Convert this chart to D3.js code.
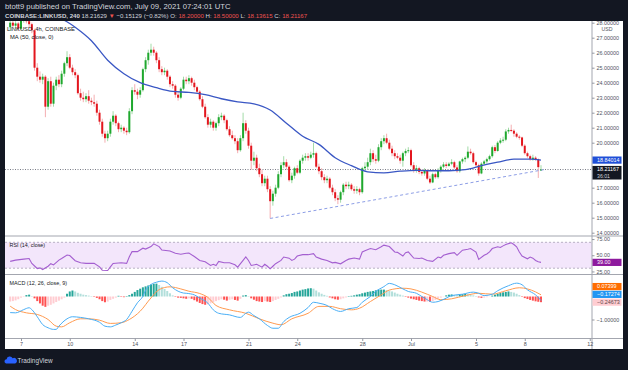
<!DOCTYPE html>
<html>
<head>
<meta charset="utf-8">
<script src="https://cdn.jsdelivr.net/npm/d3@7"></script>
<style>
  body { margin: 0; background: #131722; }
  svg { display: block; font-family: "Liberation Sans", Arial, sans-serif; }
  .axis text { fill: #50535e; font-size: 5.4px; font-family: "Liberation Sans", Arial, sans-serif; }
  .axis line { stroke: #9598a1; }
</style>
</head>
<body>
<svg></svg>
<script>
var width = 628;
var height = 370;

// header
var headLine1 = "btott9 published on TradingView.com, July 09, 2021 07:24:01 UTC";
var symbolText = "COINBASE:LINKUSD, 240";
var lastTrade = "18.21629";
var changeText = "\u22120.15129 (\u22120.82%)";
var ohlcNames = ["O:", "H:", "L:", "C:"];
var ohlcTexts = ["18.20000", "18.50000", "18.13615", "18.21167"];

// 4h candles, first one June 6 08:00 UTC
var firstCandle = Date.UTC(2021, 5, 6, 8);
var opens = [
  27.70, 28.00, 27.80, 27.95, 27.60, 28.20, 28.40, 28.10, 27.90, 27.50,
  25.00, 24.40, 24.20, 24.40, 22.40, 24.10, 22.60, 23.80, 24.20, 23.90,
  24.60, 25.30, 25.70, 25.00, 24.70, 24.50, 23.30, 23.00, 22.90, 23.10,
  22.80, 22.70, 22.60, 22.00, 21.40, 20.60, 20.30, 20.60, 21.40, 21.80,
  21.30, 20.90, 21.00, 20.80, 20.70, 22.10, 23.50, 23.40, 23.20, 23.50,
  24.90, 25.50, 26.00, 26.20, 26.00, 25.50, 24.90, 24.70, 24.80, 24.40,
  23.90, 23.80, 23.20, 23.00, 23.60, 24.20, 24.10, 24.30, 24.00, 23.70,
  23.40, 22.90, 22.40, 21.70, 21.20, 21.40, 21.00, 21.30, 21.70, 21.80,
  21.50, 20.90, 20.50, 20.30, 20.10, 19.50, 20.30, 21.30, 20.80, 19.80,
  18.80, 19.00, 18.30, 17.90, 17.30, 17.60, 16.90, 16.10, 16.60, 17.00,
  17.90, 18.50, 18.70, 18.40, 17.50, 17.80, 18.30, 18.00, 18.80, 19.00,
  19.10, 19.00, 19.20, 19.30, 18.40, 18.10, 17.70, 17.50, 17.60, 17.00,
  16.70, 16.30, 16.20, 16.70, 17.20, 17.10, 17.20, 16.90, 16.80, 16.90,
  16.70, 18.30, 18.40, 18.70, 19.30, 18.90, 18.80, 19.70, 20.10, 20.30,
  20.00, 19.60, 19.30, 19.10, 19.00, 18.80, 19.30, 19.45, 19.50, 18.50,
  18.20, 18.30, 18.05, 17.95, 18.15, 17.60, 17.35, 17.90, 17.70, 18.15,
  18.40, 18.55, 18.45, 18.60, 18.70, 18.35, 18.10, 18.75, 18.90, 19.00,
  19.40, 19.30, 18.70, 18.50, 17.95, 18.60, 18.75, 18.90, 19.10, 19.70,
  19.45, 20.00, 20.15, 20.20, 20.75, 20.85, 20.80, 20.60, 20.40, 20.35,
  19.80, 19.30, 19.10, 18.90, 19.00, 18.90, 18.20
];
var highs = [
  28.30, 28.15, 28.10, 28.05, 28.60, 28.70, 28.55, 28.25, 28.00, 27.60,
  25.30, 24.75, 24.60, 24.50, 24.30, 24.40, 24.00, 24.40, 24.50, 24.80,
  25.40, 26.10, 25.90, 25.20, 24.90, 24.60, 23.60, 23.40, 23.30, 23.50,
  23.00, 23.20, 22.80, 22.20, 21.60, 20.80, 20.80, 21.60, 22.10, 21.90,
  21.40, 21.20, 21.10, 21.00, 22.30, 23.70, 23.90, 23.60, 23.70, 25.00,
  25.70, 26.20, 26.60, 26.40, 26.10, 25.70, 25.10, 25.00, 24.90, 24.50,
  24.10, 23.90, 23.40, 23.70, 24.40, 24.40, 24.50, 24.40, 24.20, 23.80,
  23.50, 23.10, 22.60, 21.90, 21.60, 21.50, 21.40, 21.90, 22.00, 21.90,
  21.60, 21.10, 20.80, 20.50, 20.30, 20.50, 22.00, 21.50, 21.00, 20.00,
  19.40, 19.20, 18.60, 18.20, 17.80, 17.80, 17.10, 16.80, 17.20, 18.10,
  18.70, 19.10, 18.90, 18.50, 18.00, 18.40, 18.50, 18.90, 19.20, 19.30,
  19.30, 19.40, 20.00, 19.40, 18.60, 18.30, 17.90, 17.80, 17.70, 17.20,
  16.90, 16.50, 16.80, 17.30, 17.40, 17.40, 17.30, 17.10, 17.10, 17.00,
  18.40, 18.70, 19.00, 19.60, 19.50, 19.20, 19.90, 20.30, 20.50, 20.60,
  20.20, 19.80, 19.50, 19.30, 19.20, 19.40, 19.60, 19.70, 19.60, 18.70,
  18.50, 18.40, 18.20, 18.30, 18.20, 17.80, 18.00, 18.00, 18.30, 18.50,
  18.70, 18.70, 18.70, 18.90, 18.80, 18.50, 18.80, 19.00, 19.10, 19.75,
  19.60, 19.40, 18.80, 18.60, 18.70, 18.85, 19.00, 19.20, 19.80, 19.85,
  20.10, 20.30, 20.40, 20.90, 21.00, 21.20, 20.90, 20.70, 20.50, 20.40,
  19.90, 19.40, 19.20, 19.20, 19.10, 18.95, 18.50
];
var lows = [
  27.45, 27.70, 27.60, 27.45, 27.50, 28.00, 27.95, 27.70, 27.30, 24.80,
  24.10, 24.00, 23.90, 21.70, 22.20, 22.40, 22.40, 23.50, 23.70, 23.70,
  24.40, 25.10, 24.90, 24.50, 24.30, 23.20, 22.80, 22.70, 22.70, 22.60,
  22.50, 22.40, 21.80, 21.20, 20.40, 20.00, 20.10, 20.40, 21.20, 21.10,
  20.70, 20.70, 20.60, 20.50, 20.60, 21.90, 23.20, 22.90, 23.00, 23.40,
  24.70, 25.20, 25.80, 25.80, 25.30, 24.70, 24.50, 24.50, 24.20, 23.70,
  23.60, 23.00, 22.80, 22.90, 23.50, 23.90, 23.90, 23.80, 23.50, 23.30,
  22.80, 22.30, 21.60, 21.00, 21.00, 20.80, 20.80, 21.10, 21.50, 21.30,
  20.80, 20.40, 20.20, 19.90, 19.30, 19.40, 20.10, 20.60, 19.60, 18.20,
  18.50, 18.10, 17.70, 17.10, 17.10, 16.70, 14.95, 15.80, 16.40, 16.90,
  17.70, 18.30, 18.20, 17.40, 17.30, 17.60, 17.90, 17.90, 18.60, 18.80,
  18.80, 18.90, 19.00, 18.30, 17.90, 17.50, 17.30, 17.30, 16.90, 16.50,
  16.10, 15.90, 16.00, 16.50, 16.90, 16.90, 16.80, 16.60, 16.60, 16.50,
  16.60, 18.10, 18.20, 18.50, 18.70, 18.60, 18.70, 19.50, 19.90, 19.90,
  19.50, 19.10, 18.90, 18.90, 18.60, 18.40, 19.10, 19.30, 18.40, 18.00,
  18.00, 17.90, 17.80, 17.80, 17.50, 17.25, 17.30, 17.60, 17.60, 18.00,
  18.30, 18.30, 18.40, 18.50, 18.25, 18.00, 18.00, 18.60, 18.70, 18.90,
  19.20, 18.60, 18.40, 17.80, 17.90, 18.50, 18.60, 18.80, 19.00, 19.30,
  19.40, 19.90, 20.00, 20.10, 20.60, 20.70, 20.40, 20.30, 20.20, 19.70,
  19.20, 19.00, 18.80, 18.80, 18.80, 17.65, 18.14
];
var closes = [
  28.00, 27.80, 27.95, 27.60, 28.20, 28.40, 28.10, 27.90, 27.50, 25.00,
  24.40, 24.20, 24.40, 22.40, 24.10, 22.60, 23.80, 24.20, 23.90, 24.60,
  25.30, 25.70, 25.00, 24.70, 24.50, 23.30, 23.00, 22.90, 23.10, 22.80,
  22.70, 22.60, 22.00, 21.40, 20.60, 20.30, 20.60, 21.40, 21.80, 21.30,
  20.90, 21.00, 20.80, 20.70, 22.10, 23.50, 23.40, 23.20, 23.50, 24.90,
  25.50, 26.00, 26.20, 26.00, 25.50, 24.90, 24.70, 24.80, 24.40, 23.90,
  23.80, 23.20, 23.00, 23.60, 24.20, 24.10, 24.30, 24.00, 23.70, 23.40,
  22.90, 22.40, 21.70, 21.20, 21.40, 21.00, 21.30, 21.70, 21.80, 21.50,
  20.90, 20.50, 20.30, 20.10, 19.50, 20.30, 21.30, 20.80, 19.80, 18.80,
  19.00, 18.30, 17.90, 17.30, 17.60, 16.90, 16.10, 16.60, 17.00, 17.90,
  18.50, 18.70, 18.40, 17.50, 17.80, 18.30, 18.00, 18.80, 19.00, 19.10,
  19.00, 19.20, 19.30, 18.40, 18.10, 17.70, 17.50, 17.60, 17.00, 16.70,
  16.30, 16.20, 16.70, 17.20, 17.10, 17.20, 16.90, 16.80, 16.90, 16.70,
  18.30, 18.40, 18.70, 19.30, 18.90, 18.80, 19.70, 20.10, 20.30, 20.00,
  19.60, 19.30, 19.10, 19.00, 18.80, 19.30, 19.45, 19.50, 18.50, 18.20,
  18.30, 18.05, 17.95, 18.15, 17.60, 17.35, 17.90, 17.70, 18.15, 18.40,
  18.55, 18.45, 18.60, 18.70, 18.35, 18.10, 18.75, 18.90, 19.00, 19.40,
  19.30, 18.70, 18.50, 17.95, 18.60, 18.75, 18.90, 19.10, 19.70, 19.45,
  20.00, 20.15, 20.20, 20.75, 20.85, 20.80, 20.60, 20.40, 20.35, 19.80,
  19.30, 19.10, 18.90, 19.00, 18.90, 18.37, 18.21
];

// MA(50), keyed by candle index
var maIdx = [12, 18, 24, 30, 36, 42, 48, 54, 60, 66, 72, 78, 84, 90, 96, 102,
  108, 114, 120, 126, 132, 138, 144, 150, 156, 162, 168, 174, 180, 186, 192, 196];
var maVals = [29.2, 28.4, 27.7, 26.8, 25.5, 24.6, 24.0, 23.67, 23.42, 23.35, 23.2, 22.93,
  22.72, 22.59, 22.18, 21.3, 20.43, 19.89, 19.0, 18.47, 18.06, 17.99, 18.1, 18.16,
  18.13, 18.13, 18.2, 18.47, 18.7, 18.9, 18.9, 18.84];

// trend line under the lows
var trendIdx = [96, 197];
var trendVals = [14.95, 18.2];

// RSI(14)
var rsiIdx = [0, 2, 5, 7, 8, 10, 11, 12, 14, 15, 16, 18, 19, 21, 22, 24, 26, 28, 31, 33,
  34, 36, 37, 38, 41, 43, 44, 45, 47, 49, 50, 52, 53, 55, 56, 59, 61, 63, 65, 66,
  68, 70, 72, 74, 75, 76, 77, 79, 81, 83, 84, 86, 87, 88, 89, 91, 93, 94, 95, 96,
  97, 98, 100, 101, 103, 104, 105, 106, 108, 110, 112, 113, 115, 117, 119, 120, 122, 124, 125, 127,
  129, 130, 131, 133, 135, 137, 138, 140, 142, 143, 145, 146, 147, 149, 151, 152, 154, 156, 158, 159,
  160, 162, 164, 165, 167, 169, 170, 172, 173, 175, 176, 177, 178, 180, 181, 182, 183, 185, 186, 187,
  188, 189, 191, 192, 193, 194, 195, 196];
var rsiVals = [40.5, 42.5, 44, 45, 37.4, 29.5, 30.5, 28, 33, 37, 35, 42.5, 45, 50.4, 49.5, 41.5, 38.4, 37.5, 37.5, 32,
  26.9, 26.5, 32, 37.4, 38.5, 37.4, 47.8, 55.6, 55.6, 60.9, 59.5, 63.4, 67.6, 63.4, 58, 56.5, 53, 51.5, 53, 53.5,
  48, 42, 40, 34.2, 36, 34.2, 40.5, 38.5, 38.5, 35.2, 31.6, 42, 47.3, 42, 34.2, 36, 31.6, 36, 33, 29,
  33, 37, 42, 47.3, 45.5, 42, 44, 48.8, 50.9, 50.9, 52.5, 47.3, 44, 42, 38.3, 39, 36.8, 42, 44, 45.7,
  44, 55.1, 57, 60.3, 58.5, 63, 65.6, 63.5, 55.1, 54.5, 48.8, 54, 55.1, 45.7, 45, 45.7, 42, 40.5, 47.3, 46,
  49.9, 52.5, 54, 49.9, 57.8, 59.3, 60.3, 55, 43.6, 49.9, 52, 55.1, 60.3, 63, 62, 64.5, 66.6, 69.2, 66.6, 63,
  55.1, 48.8, 44.6, 47.3, 45.5, 42, 40, 39];

// MACD(12, 26, 9): macd line, signal line, histogram
var macdIdx = [0, 2, 5, 7, 8, 10, 12, 14, 16, 17, 18, 21, 23, 26, 29, 33, 35, 37, 39, 41,
  43, 45, 47, 49, 50, 52, 54, 56, 58, 60, 62, 64, 65, 68, 70, 73, 75, 77, 81, 85,
  87, 88, 90, 92, 95, 97, 99, 101, 103, 107, 110, 112, 114, 117, 119, 122, 125, 128, 130, 133,
  135, 138, 140, 142, 145, 147, 150, 152, 154, 156, 158, 161, 163, 167, 171, 173, 175, 178, 180, 184,
  187, 189, 191, 194, 196];
var macdVals = [-0.70, -0.71, -0.57, -0.49, -0.57, -0.88, -1.22, -1.36, -1.43, -1.43, -1.29, -0.97, -0.88, -0.91, -0.97, -1.12, -1.29, -1.32, -1.24, -1.14,
  -1.0, -0.64, -0.27, 0.01, 0.27, 0.52, 0.62, 0.67, 0.6, 0.38, 0.23, 0.15, 0.14, 0.07, -0.07, -0.29, -0.58, -0.73, -0.8, -0.91,
  -0.73, -0.68, -0.83, -0.97, -1.26, -1.38, -1.38, -1.09, -0.91, -0.73, -0.48, -0.25, -0.29, -0.39, -0.53, -0.65, -0.53, -0.48, -0.25, 0,
  0.22, 0.43, 0.57, 0.51, 0.33, 0.22, 0.14, 0, -0.14, -0.25, -0.22, -0.07, 0.04, 0.1, 0.19, 0.14, 0.04, 0.1, 0.25, 0.47,
  0.58, 0.51, 0.29, 0.07, -0.17274];
var sigIdx = [0, 2, 6, 10, 14, 17, 19, 22, 26, 29, 33, 37, 41, 44, 48, 52, 55, 59, 63, 66,
  70, 73, 76, 81, 87, 92, 97, 100, 104, 110, 114, 118, 122, 126, 129, 133, 137, 140, 145, 148,
  152, 156, 159, 163, 168, 173, 178, 183, 188, 191, 194, 196];
var sigVals = [-0.42, -0.57, -0.71, -0.78, -1.0, -1.29, -1.32, -1.14, -0.97, -0.97, -1.03, -1.17, -1.14, -1.0, -0.64, -0.06, 0.3, 0.42, 0.33, 0.23,
  0.13, -0.04, -0.39, -0.58, -0.73, -0.97, -1.16, -1.23, -0.97, -0.73, -0.43, -0.43, -0.53, -0.58, -0.51, -0.22, 0.07, 0.28, 0.36, 0.33,
  0.19, 0, -0.14, -0.1, 0.04, 0.14, 0.1, 0.25, 0.38, 0.33, 0.2, 0.07399];
var histVals = [
  -0.22, -0.20, -0.17, -0.12, -0.05, -0.02, 0.06, 0.08, 0.02, -0.08,
  -0.20, -0.30, -0.40, -0.45, -0.40, -0.36, -0.30, -0.24, -0.18, -0.12,
  -0.05, 0.12, 0.22, 0.26, 0.22, 0.16, 0.12, 0.08, 0.06, 0.04,
  0.02, -0.02, -0.06, -0.12, -0.20, -0.25, -0.22, -0.15, -0.10, -0.05,
  0.03, -0.02, -0.03, 0.02, 0.06, 0.12, 0.20, 0.28, 0.34, 0.40,
  0.44, 0.48, 0.52, 0.55, 0.56, 0.50, 0.42, 0.33, 0.24, 0.14,
  0.05, -0.02, -0.05, -0.06, -0.08, -0.10, -0.08, -0.10, -0.16, -0.22,
  -0.28, -0.33, -0.36, -0.34, -0.30, -0.25, -0.20, -0.16, -0.12, -0.14,
  -0.18, -0.14, -0.12, -0.15, -0.18, -0.10, 0.04, 0.06, 0.02, -0.08,
  -0.14, -0.20, -0.22, -0.24, -0.20, -0.22, -0.24, -0.20, -0.15, -0.10,
  -0.04, 0.05, 0.10, 0.12, 0.15, 0.20, 0.22, 0.26, 0.30, 0.32,
  0.35, 0.36, 0.34, 0.26, 0.18, 0.12, 0.07, 0.03, -0.04, -0.08,
  -0.12, -0.14, -0.12, -0.08, -0.04, 0.02, 0.03, 0.05, 0.08, 0.10,
  0.14, 0.17, 0.20, 0.22, 0.24, 0.27, 0.29, 0.30, 0.30, 0.28,
  0.25, 0.22, 0.17, 0.12, 0.08, 0.04, -0.02, -0.05, -0.09, -0.12,
  -0.15, -0.18, -0.20, -0.22, -0.22, -0.23, -0.20, -0.15, -0.10, -0.05,
  -0.01, 0.05, 0.08, 0.09, 0.07, 0.06, 0.08, 0.10, 0.11, 0.10,
  0.08, 0.05, 0.02, -0.04, -0.06, -0.05, -0.03, -0.01, 0.04, 0.08,
  0.12, 0.15, 0.18, 0.20, 0.22, 0.20, 0.17, 0.12, 0.06, -0.02,
  -0.07, -0.11, -0.15, -0.18, -0.21, -0.23, -0.24673
];

// axis ticks
var tickDates = [Date.UTC(2021, 5, 7), Date.UTC(2021, 5, 10), Date.UTC(2021, 5, 14), Date.UTC(2021, 5, 17),
  Date.UTC(2021, 5, 21), Date.UTC(2021, 5, 24), Date.UTC(2021, 5, 28), Date.UTC(2021, 6, 1),
  Date.UTC(2021, 6, 5), Date.UTC(2021, 6, 8), Date.UTC(2021, 6, 12)];
var tickLabels = ["7", "10", "14", "17", "21", "24", "28", "Jul", "5", "8", "12"];
var priceTicks = [14, 15, 16, 17, 18, 19, 20, 21, 22, 23, 24, 25, 26, 27, 28];
var rsiTicks = [25, 50, 75];
var macdTicks = [-1];

// last values shown on the scale
var lastPrice = 18.21167;
var countdown = "36:01";
var maLast = 18.84014;
var rsiLast = 39.00;

// layout
var plotL = 5, plotR = 592, axisR = 623;
var priceTop = 21, priceBot = 236;
var rsiTop = 236, rsiBot = 274.5;
var macdTop = 274.5, macdBot = 338.5;
var chartBot = 349;

var svg = d3.select("svg").attr("width", width).attr("height", height);

var x = d3.scaleUtc()
  .domain([Date.UTC(2021, 5, 7), Date.UTC(2021, 6, 8)])
  .range([21, 524.75]);
var y = d3.scaleLinear().domain([14, 28]).range([232.7, 22.7]);
var yRsi = d3.scaleLinear().domain([30, 70]).range([268.2, 242.3]);
var yMacd = d3.scaleLinear().domain([-1, 0]).range([319.5, 296.5]);

function candleTime(i) { return new Date(firstCandle + i * 4 * 3600 * 1000); }

svg.append("rect").attr("width", width).attr("height", height).attr("fill", "#131722");
svg.append("rect")
  .attr("x", plotL).attr("y", priceTop)
  .attr("width", axisR - plotL).attr("height", chartBot - priceTop)
  .attr("fill", "#ffffff");

var defs = svg.append("defs");
function clip(id, x0, y0, x1, y1) {
  defs.append("clipPath").attr("id", id).append("rect")
    .attr("x", x0).attr("y", y0).attr("width", x1 - x0).attr("height", y1 - y0);
}
clip("cPrice", plotL, priceTop, plotR, priceBot);
clip("cRsi", plotL, rsiTop, plotR, rsiBot);
clip("cMacd", plotL, macdTop, plotR, macdBot);
clip("aPrice", plotR, priceTop, axisR, priceBot);
clip("aRsi", plotR, rsiTop, axisR, rsiBot);
clip("aMacd", plotR, macdTop, axisR, macdBot);

// ---------- price pane ----------
var candles = opens.map(function(o, i) {
  return { t: candleTime(i), o: o, h: highs[i], l: lows[i], c: closes[i] };
});

var priceG = svg.append("g").attr("clip-path", "url(#cPrice)");

priceG.append("line")
  .attr("x1", plotL).attr("x2", plotR)
  .attr("y1", y(lastPrice)).attr("y2", y(lastPrice))
  .attr("stroke", "#787b86").attr("stroke-dasharray", "1,1.5");

priceG.selectAll(".wick")
  .data(candles)
  .enter()
  .append("line")
  .attr("x1", d => x(d.t)).attr("x2", d => x(d.t))
  .attr("y1", d => y(d.h)).attr("y2", d => y(d.l))
  .attr("stroke", d => d.c >= d.o ? "#a3dba8" : "#f4aeb1")
  .attr("stroke-width", 1);

priceG.selectAll(".body")
  .data(candles)
  .enter()
  .append("rect")
  .attr("x", d => x(d.t) - 1)
  .attr("width", 2)
  .attr("y", d => y(Math.max(d.o, d.c)))
  .attr("height", d => Math.max(1, Math.abs(y(d.o) - y(d.c))))
  .attr("fill", d => d.c >= d.o ? "#1fa82e" : "#e3161e");

var trendPts = trendIdx.map((k, j) => [x(candleTime(k)), y(trendVals[j])]);
priceG.append("path")
  .attr("d", d3.line()(trendPts))
  .attr("fill", "none")
  .attr("stroke", "#8d9ee6")
  .attr("stroke-width", 1)
  .attr("stroke-dasharray", "3,2.5");

var maPts = maIdx.map((k, j) => [x(candleTime(k)), y(maVals[j])]);
priceG.append("path")
  .attr("d", d3.line().curve(d3.curveMonotoneX)(maPts))
  .attr("fill", "none")
  .attr("stroke", "#3a57c4")
  .attr("stroke-width", 1.3);

// ---------- RSI pane ----------
var rsiG = svg.append("g").attr("clip-path", "url(#cRsi)");
rsiG.append("rect")
  .attr("x", plotL).attr("width", plotR - plotL)
  .attr("y", yRsi(70)).attr("height", yRsi(30) - yRsi(70))
  .attr("fill", "#f3e6fb");
[70, 30].forEach(function(v) {
  rsiG.append("line")
    .attr("x1", plotL).attr("x2", plotR)
    .attr("y1", yRsi(v)).attr("y2", yRsi(v))
    .attr("stroke", "#b8b0c4").attr("stroke-dasharray", "2,2");
});
var rsiPts = rsiIdx.map((k, j) => [x(candleTime(k)), yRsi(rsiVals[j])]);
rsiG.append("path")
  .attr("d", d3.line()(rsiPts))
  .attr("fill", "none")
  .attr("stroke", "#a45fd0")
  .attr("stroke-width", 1.1);

// ---------- MACD pane ----------
var macdG = svg.append("g").attr("clip-path", "url(#cMacd)");
macdG.selectAll(".hist")
  .data(histVals)
  .enter()
  .append("rect")
  .attr("x", (v, i) => x(candleTime(i)) - 1)
  .attr("width", 2)
  .attr("y", v => yMacd(Math.max(0, v)))
  .attr("height", v => Math.abs(yMacd(v) - yMacd(0)))
  .attr("fill", function(v, i) {
    var prev = i > 0 ? histVals[i - 1] : v;
    if (v >= 0) return v >= prev ? "#26a69a" : "#b2dfdb";
    return v < prev ? "#ff5252" : "#ffcdd2";
  });

var macdPts = macdIdx.map((k, j) => [x(candleTime(k)), yMacd(macdVals[j])]);
var sigPts = sigIdx.map((k, j) => [x(candleTime(k)), yMacd(sigVals[j])]);
macdG.append("path")
  .attr("d", d3.line().curve(d3.curveMonotoneX)(sigPts))
  .attr("fill", "none").attr("stroke", "#ff9a50").attr("stroke-width", 1);
macdG.append("path")
  .attr("d", d3.line().curve(d3.curveMonotoneX)(macdPts))
  .attr("fill", "none").attr("stroke", "#49aef5").attr("stroke-width", 1);

// ---------- separators ----------
[priceBot, rsiBot, macdBot].forEach(function(yy) {
  svg.append("line")
    .attr("x1", plotL).attr("x2", axisR)
    .attr("y1", yy).attr("y2", yy)
    .attr("stroke", "#a3a6af");
});
svg.append("line")
  .attr("x1", plotR).attr("x2", plotR)
  .attr("y1", priceTop).attr("y2", chartBot)
  .attr("stroke", "#a3a6af");

// ---------- axes ----------
// value labels that sit on the price scale hide the tick labels under them
var priceBoxes = [[y(maLast) - 3.6, y(maLast) + 3.6], [y(lastPrice) - 3.6, y(lastPrice) + 10]];
function hidden(yy, boxes) {
  return boxes.some(b => yy + 2.5 > b[0] && yy - 2.5 < b[1]);
}

var pAxis = svg.append("g")
  .attr("clip-path", "url(#aPrice)")
  .append("g")
  .attr("class", "axis")
  .attr("transform", "translate(" + plotR + ",0)")
  .call(d3.axisRight(y).tickValues(priceTicks.filter(v => !hidden(y(v), priceBoxes)))
    .tickFormat(d3.format(".5f")).tickSize(2.5).tickPadding(2));
pAxis.select(".domain").remove();
svg.append("text")
  .attr("x", 607).attr("y", 31)
  .attr("text-anchor", "middle")
  .attr("fill", "#50535e").attr("font-size", 5.2)
  .text("USD");

var rAxis = svg.append("g")
  .attr("clip-path", "url(#aRsi)")
  .append("g")
  .attr("class", "axis")
  .attr("transform", "translate(" + plotR + ",0)")
  .call(d3.axisRight(yRsi).tickValues(rsiTicks).tickFormat(d3.format(".2f")).tickSize(2.5).tickPadding(2));
rAxis.select(".domain").remove();

var mAxis = svg.append("g")
  .attr("clip-path", "url(#aMacd)")
  .append("g")
  .attr("class", "axis")
  .attr("transform", "translate(" + plotR + ",0)")
  .call(d3.axisRight(yMacd).tickValues(macdTicks)
    .tickFormat(d => d3.format(".5f")(d).replace("-", "\u2212")).tickSize(2.5).tickPadding(2));
mAxis.select(".domain").remove();

var tAxis = svg.append("g")
  .attr("class", "axis")
  .attr("transform", "translate(0," + macdBot + ")")
  .call(d3.axisBottom(x).tickValues(tickDates.map(d => new Date(d)))
    .tickFormat((d, i) => tickLabels[i]).tickSize(2.5).tickPadding(1));
tAxis.select(".domain").remove();

// ---------- last value labels ----------
function valueLabel(yc, txt, bg, fg, h) {
  var g = svg.append("g");
  g.append("rect")
    .attr("x", plotR + 0.5).attr("y", yc - 3.6)
    .attr("width", 29).attr("height", h || 7.2)
    .attr("fill", bg);
  g.append("text")
    .attr("x", plotR + 5).attr("y", yc + 1.9)
    .attr("fill", fg).attr("font-size", 5.4)
    .text(txt);
  return g;
}
valueLabel(y(maLast), d3.format(".5f")(maLast), "#1f4fd8", "#ffffff");
var pl = valueLabel(y(lastPrice), d3.format(".5f")(lastPrice), "#131722", "#ffffff", 13.6);
pl.append("text")
  .attr("x", plotR + 5).attr("y", y(lastPrice) + 8.3)
  .attr("fill", "#d1d4dc").attr("font-size", 5.2)
  .text(countdown);
valueLabel(yRsi(rsiLast), d3.format(".2f")(rsiLast), "#8e1a9e", "#ffffff");

var macdLabels = [
  { v: sigVals[sigVals.length - 1], bg: "#ff6d00", fg: "#ffffff" },
  { v: macdVals[macdVals.length - 1], bg: "#2196f3", fg: "#ffffff" },
  { v: histVals[histVals.length - 1], bg: "#ffcdd2", fg: "#5d4548" }
];
macdLabels.forEach(d => { d.y = yMacd(d.v); });
macdLabels.sort((a, b) => a.y - b.y);
for (var k = macdLabels.length - 2; k >= 0; k--) {
  if (macdLabels[k].y > macdLabels[k + 1].y - 7.8) macdLabels[k].y = macdLabels[k + 1].y - 7.8;
}
macdLabels.forEach(function(d) {
  valueLabel(d.y, d3.format(".5f")(d.v).replace("-", "\u2212"), d.bg, d.fg);
});

// ---------- pane legends ----------
svg.append("text").attr("x", 7).attr("y", 31)
  .attr("fill", "#131722").attr("font-size", 5.8)
  .text("LINKUSD, 4h, COINBASE");
svg.append("text").attr("x", 10).attr("y", 39)
  .attr("fill", "#131722").attr("font-size", 5.8)
  .text("MA (50, close, 0)");
svg.append("text").attr("x", 9.5).attr("y", 247)
  .attr("fill", "#131722").attr("font-size", 5.4)
  .text("RSI (14, close)");
svg.append("text").attr("x", 9.5).attr("y", 284.5)
  .attr("fill", "#131722").attr("font-size", 5.4)
  .text("MACD (12, 26, close, 9)");

// ---------- header ----------
svg.append("text").attr("x", 5).attr("y", 8.5)
  .attr("fill", "#d1d4dc").attr("font-size", 7.7)
  .text(headLine1);
var h2 = svg.append("text").attr("x", 5).attr("y", 17.5)
  .attr("fill", "#d1d4dc").attr("font-size", 6.1);
h2.append("tspan").attr("font-weight", "bold").text(symbolText + " ");
h2.append("tspan").text(" " + lastTrade + " ");
h2.append("tspan").attr("fill", "#ef5350").text("\u25BC ");
h2.append("tspan").text(changeText + " ");
ohlcNames.forEach(function(n, i) {
  h2.append("tspan").text(n + " ");
  h2.append("tspan").attr("fill", "#ef5350").text(ohlcTexts[i] + " ");
});

// ---------- footer logo ----------
svg.append("path")
  .attr("d", "M6,363.5 a2.2,2.2 0 0 1 0.6,-4.3 a3.2,3.2 0 0 1 6,-1 a2.6,2.6 0 0 1 2.6,5.3 z")
  .attr("fill", "#2962ff");
svg.append("text").attr("x", 17.5).attr("y", 362.5)
  .attr("fill", "#d1d4dc").attr("font-size", 6.4)
  .text("TradingView");
</script>
</body>
</html>
